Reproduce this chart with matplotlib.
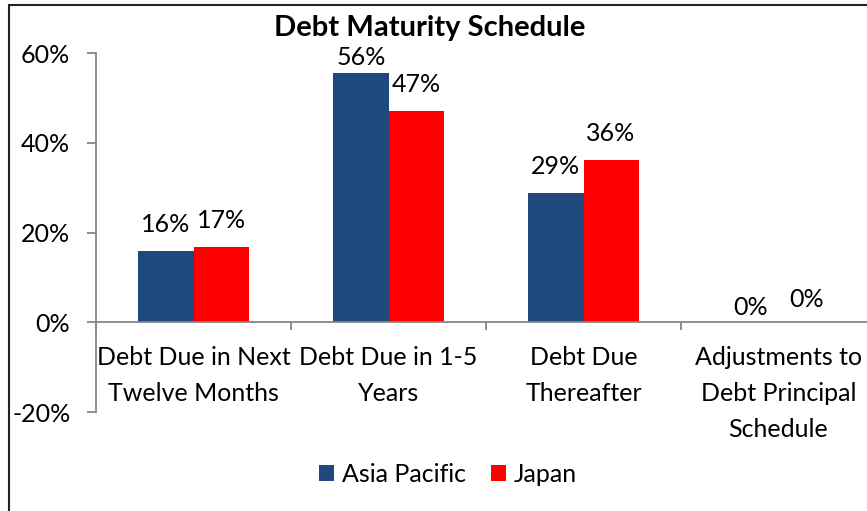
import numpy as np
import matplotlib.pyplot as plt
from matplotlib.patches import Rectangle

# data (percent)
categories = ["Debt Due in Next\nTwelve Months", "Debt Due in 1-5\nYears",
              "Debt Due\nThereafter", "Adjustments to\nDebt Principal\nSchedule"]
asia_pacific = [15.8, 55.5, 28.8, 0.0]
japan = [16.7, 47.1, 36.1, 0.0]
yticks = [-20, 0, 20, 40, 60]
ytick_labels = ["-20%", "0%", "20%", "40%", "60%"]

blue = "#1F497D"
red = "#FF0000"
grey = "#868686"

plt.rcParams['font.family'] = ['Lato', 'DejaVu Sans']
fs = 18

fig = plt.figure(figsize=(8.67, 5.11), dpi=100)
W, H = 867, 511
ax = fig.add_axes([96 / W, 1 - 412 / H, 780 / W, 359 / H])

x = np.arange(len(categories))
w = 0.283
b1 = ax.bar(x - w / 2, asia_pacific, w, color=blue, label="Asia Pacific")
b2 = ax.bar(x + w / 2, japan, w, color=red, label="Japan")

# value labels above the bars (tallest one is squeezed under the title, zeros sit lower)
def label_bars(bars, vals, pads):
    for rect, v, p in zip(bars, vals, pads):
        ax.annotate("%d%%" % round(v), (rect.get_x() + rect.get_width() / 2, v),
                    xytext=(0, p), textcoords="offset points",
                    ha="center", va="bottom", fontsize=fs)

label_bars(b1, asia_pacific, [11, 3, 11, 2])
label_bars(b2, japan, [11, 11, 11, 8])

ax.set_xlim(-0.5, 3.5)
ax.set_ylim(-20, 60)
ax.set_yticks(yticks)
ax.set_yticklabels(ytick_labels)

# category boundaries as major ticks, labels on minor ticks
ax.set_xticks(np.arange(-0.5, 4, 1))
ax.set_xticklabels([])
ax.set_xticks(x, minor=True)
ax.set_xticklabels(categories, minor=True)

for s in ["top", "right"]:
    ax.spines[s].set_visible(False)
ax.spines["bottom"].set_position(("data", 0))
ax.spines["bottom"].set_color(grey)
ax.spines["left"].set_color(grey)
ax.spines["bottom"].set_linewidth(1.3)
ax.spines["left"].set_linewidth(1.3)
ax.tick_params(axis="y", length=6.5, width=1.3, color=grey, pad=12, labelsize=fs)
ax.tick_params(axis="x", which="major", length=6, width=1.3, color=grey, direction="out")
ax.tick_params(axis="x", which="minor", length=0, pad=17, labelsize=fs)
for lab in ax.get_xticklabels(minor=True):
    lab.set_linespacing(1.68)

fig.text(430 / W, 1 - 28 / H, "Debt Maturity Schedule", fontsize=21, fontweight="bold",
         ha="center", va="center")

fig.legend(handles=[b1, b2], loc="center", bbox_to_anchor=(448 / W, 1 - 474 / H),
           ncol=2, frameon=False, fontsize=fs, handlelength=0.6, handleheight=0.6,
           handletextpad=0.3, columnspacing=1.0)

# chart frame (cut off on the right and bottom)
fig.patches.append(Rectangle((9 / W, -0.2), 1.2, 1.2 - 5 / H, transform=fig.transFigure,
                             fill=False, edgecolor="#222222", linewidth=1.5))

fig.savefig("out.png", dpi=100)
